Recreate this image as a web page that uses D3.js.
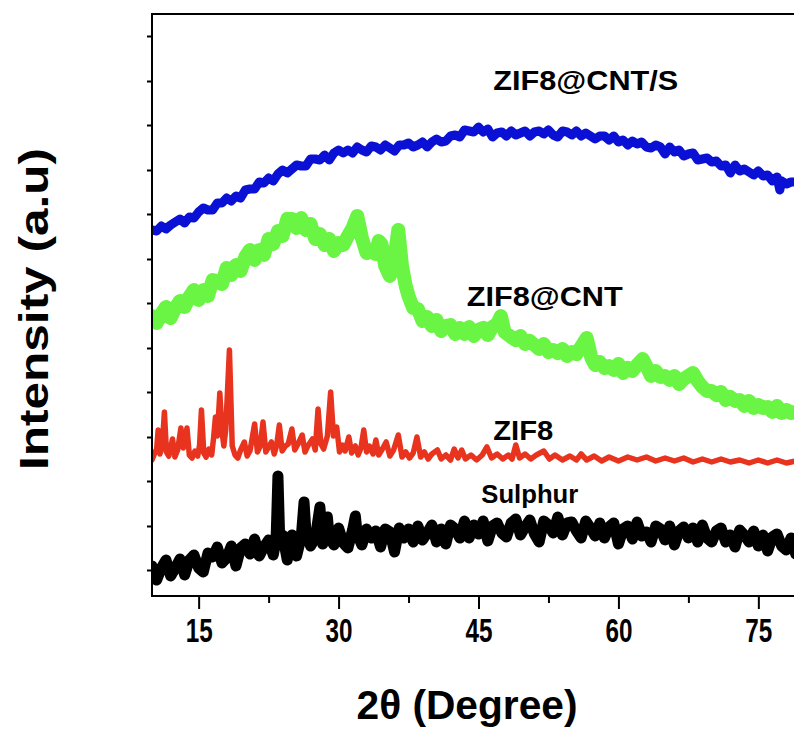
<!DOCTYPE html>
<html>
<head>
<meta charset="utf-8">
<script src="https://cdn.jsdelivr.net/npm/d3@7"></script>
<style>
  body { margin: 0; background: #fff; }
  svg { display: block; }
</style>
</head>
<body>
<div id="chart-area"></div>
<script>
(() => {

  // ---- data ----
  const twoThetaTicks = [15, 30, 45, 60, 75];
  const twoThetaMinor = [22.5, 37.5, 52.5, 67.5];
  const intensityTicks = [26, 70, 115, 159, 204, 248, 293, 337, 382, 426, 471, 515, 560];

  const zif8CntS = [[10,366],[10.5,365],[11,370],[11.5,367],[12,371],[12.5,374],[13,377],[13.5,373],[14,379],[14.5,378],[15,384],[15.5,388],[16,386],[16.5,386],[17,393],[17.5,393],[18,398],[18.5,395],[19,400],[19.5,398],[20,406],[20.5,407],[21,407],[21.5,414],[22,413],[22.5,418],[23,415],[23.5,422],[24,426],[24.5,423],[25,427],[25.5,431],[26,430],[26.5,430],[27,437],[27.5,437],[28,436],[28.5,441],[29,436],[29.5,443],[30,446],[30.5,443],[31,446],[31.5,443],[32,449],[32.5,446],[33,444],[33.5,450],[34,449],[34.5,446],[35,451],[35.5,448],[36,445],[36.5,451],[37,451],[37.5,453],[38,449],[38.5,451],[39,454],[39.5,449],[40,454],[40.5,457],[41,454],[41.5,455],[42,460],[42.5,461],[43,459],[43.5,466],[44,465],[44.5,464],[45,469],[45.5,464],[46,467],[46.5,459],[47,463],[47.5,464],[48,460],[48.5,465],[49,461],[49.5,463],[50,465],[50.5,460],[51,464],[51.5,465],[52,462],[52.5,466],[53,461],[53.5,459],[54,465],[54.5,464],[55,461],[55.5,465],[56,460],[56.5,463],[57,460],[57.5,457],[58,460],[58.5,460],[59,456],[59.5,460],[60,454],[60.5,456],[61,451],[61.5,455],[62,452],[62.5,454],[63,449],[63.5,448],[64,451],[64.5,449],[65,442],[65.5,449],[66,444],[66.5,446],[67,440],[67.5,442],[68,443],[68.5,436],[69,437],[69.5,438],[70,434],[70.5,435],[71,430],[71.5,431],[72,423],[72.5,431],[73,425],[73.5,427],[74,424],[74.5,421],[75,425],[75.5,420],[76,421],[76.5,415],[77,419],[77.3,406],[77.5,415],[78,412],[78.5,414],[79,414],[79.5,410],[80,411]];

  const zif8Cnt = [[10,280],[10.5,273],[11,282],[11.5,289],[12,278],[12.5,288],[13,295],[13.5,289],[14,299],[14.5,306],[15,296],[15.5,306],[16,300],[16.5,316],[17,315],[17.5,312],[18,328],[18.5,321],[19,331],[19.5,325],[20,339],[20.5,346],[21,336],[21.5,346],[22,341],[22.5,357],[23,352],[23.5,365],[24,360],[24.5,377],[25,377],[25.5,368],[26,378],[26.5,366],[27,372],[27.5,357],[28,362],[28.5,351],[29,357],[29.5,345],[30,353],[30.5,351],[31,360],[31.5,368],[32,380],[32.5,358],[33,343],[33.5,345],[34,342],[34.3,355],[34.6,352],[35,330],[35.5,320],[36,338],[36.4,366],[36.8,330],[37.2,310],[37.5,300],[38,288],[38.5,287],[39,275],[39.5,279],[40,270],[40.5,276],[41,265],[41.5,270],[42,271],[42.5,262],[43,268],[43.5,262],[44,269],[44.5,260],[45,266],[45.5,268],[46,261],[46.5,269],[47,272],[47.4,280],[47.8,264],[48.5,259],[49,256],[49.5,260],[50,252],[50.5,255],[51,251],[51.5,247],[52,252],[52.5,244],[53,246],[53.5,243],[54,247],[54.5,240],[55,244],[55.5,242],[56,249],[56.6,258],[57.1,238],[57.5,231],[58,234],[58.5,228],[59,230],[59.5,226],[60,232],[60.5,223],[61,228],[61.5,225],[62,231],[62.6,237],[63.2,226],[63.5,220],[64,225],[64.5,219],[65,220],[65.5,216],[66,220],[66.5,212],[67,217],[67.5,220],[68,223],[68.5,215],[69,209],[69.5,205],[70,205],[70.5,201],[71,204],[71.5,196],[72,199],[72.5,195],[73,196],[73.5,190],[74,195],[74.5,188],[75,191],[75.5,188],[76,189],[76.5,184],[77,190],[77.5,183],[78,186],[78.5,183],[79,184],[79.5,180],[80,184]];

  const zif8 = [[10,136],[10.3,143],[10.5,147],[10.66,166],[10.85,142],[11.1,150],[11.33,184],[11.55,144],[11.8,140],[12.0,149],[12.2,157],[12.45,139],[12.75,146],[13.1,168],[13.35,148],[13.5,153],[13.75,168],[14.0,141],[14.3,138],[14.6,145],[14.9,140],[15.1,151],[15.3,186],[15.55,143],[15.8,139],[16.1,147],[16.4,141],[16.6,158],[16.8,179],[17.0,160],[17.27,203],[17.5,165],[17.7,150],[17.9,166],[18.3,246],[18.6,150],[18.9,141],[19.2,138],[19.5,146],[19.9,154],[20.2,140],[20.5,145],[21.0,172],[21.3,144],[21.6,150],[21.9,174],[22.2,144],[22.5,149],[22.8,154],[23.1,142],[23.35,150],[23.65,171],[23.95,145],[24.3,150],[24.6,152],[25.0,167],[25.3,146],[25.6,151],[26.1,161],[26.4,144],[26.7,150],[27.2,157],[27.5,146],[27.8,187],[28.1,152],[28.4,147],[28.8,160],[29.15,204],[29.45,160],[29.8,169],[30.1,144],[30.4,151],[30.7,145],[31.1,159],[31.4,143],[31.8,150],[32.1,141],[32.4,148],[32.7,166],[33.0,144],[33.3,150],[33.7,142],[34.0,156],[34.3,141],[34.7,147],[35.1,154],[35.5,140],[35.9,146],[36.4,161],[36.8,139],[37.2,144],[37.6,138],[38.0,143],[38.4,159],[38.8,139],[39.2,144],[39.6,137],[40.0,142],[40.6,146],[41.0,137],[41.5,141],[42.0,136],[42.4,147],[42.8,138],[43.2,146],[43.6,137],[44.2,141],[44.8,136],[45.4,141],[45.9,149],[46.4,138],[47.0,142],[47.6,137],[48.2,141],[48.6,137],[49.0,151],[49.4,138],[50.0,142],[50.6,137],[51.2,141],[52.0,145],[52.6,137],[53.2,141],[54.0,136],[54.8,140],[55.5,136],[56.0,142],[56.6,136],[57.4,140],[58.2,135],[59,139],[60,135],[61,139],[62,136],[63,139],[64,135],[65,138],[66,135],[67,138],[68,134],[69,137],[70,134],[71,137],[72,134],[73,136],[74,133],[75,136],[76,133],[77,136],[78,133],[79,135],[80,133]];

  const sulphur = [[10,30],[10.5,16],[11,28],[11.5,36],[12,20],[12.5,28],[13,37],[13.5,21],[14,36],[14.5,41],[15,28],[15.5,24],[16,43],[16.5,39],[17,49],[17.5,33],[18,38],[18.5,50],[19,30],[19.5,48],[20,52],[20.5,42],[21,57],[21.5,40],[22,49],[22.5,56],[23,41],[23.3,56],[23.5,120],[23.7,54],[24,61],[24.5,36],[25,61],[25.5,40],[26,59],[26.3,94],[26.5,64],[27,50],[27.5,58],[28,89],[28.3,52],[28.5,65],[28.8,79],[29,59],[29.5,51],[30,68],[30.5,53],[31,48],[31.5,66],[31.8,80],[32,62],[32.5,51],[33,67],[33.5,58],[34,65],[34.5,49],[35,67],[35.5,64],[36,44],[36.5,68],[37,58],[37.5,67],[38,54],[38.5,70],[39,56],[39.5,63],[40,71],[40.5,54],[41,67],[41.5,52],[42,71],[42.5,67],[43,58],[43.5,75],[44,58],[44.5,71],[45,62],[45.5,75],[46,55],[46.5,70],[47,73],[47.5,63],[48,59],[48.5,73],[49,77],[49.5,61],[50,69],[50.5,76],[51,62],[51.5,54],[52,75],[52.5,71],[53,63],[53.5,79],[54,61],[54.5,73],[55,74],[55.5,65],[56,58],[56.5,75],[57,68],[57.5,60],[58,73],[58.5,58],[59,69],[59.5,73],[60,52],[60.5,67],[61,70],[61.5,57],[62,74],[62.5,60],[63,64],[63.5,54],[64,70],[64.5,67],[65,56],[65.5,70],[66,51],[66.5,65],[67,69],[67.5,58],[68,68],[68.5,54],[69,71],[69.5,58],[70,54],[70.5,65],[71,68],[71.5,54],[72,61],[72.5,49],[73,66],[73.5,61],[74,54],[74.5,65],[75,50],[75.5,61],[76,45],[76.5,59],[77,62],[77.5,50],[78,46],[78.5,58],[79,42],[79.5,52],[80,54]];

  // ---- layout ----
  const widthSvg = 794;
  const heightSvg = 730;
  const margin = { top: 14, left: 152 };
  const widthChart = 653;   // runs past the right edge like the source image
  const heightChart = 582;
  const fontBold = '"Liberation Sans", Arial, sans-serif';

  const scaleX = d3.scaleLinear()
    .domain([10, 80])
    .range([0, widthChart]);

  const scaleY = d3.scaleLinear()
    .domain([0, 582])
    .range([heightChart, 0]);

  const svg = d3.select('#chart-area')
    .append('svg')
      .attr('width', widthSvg)
      .attr('height', heightSvg);

  const chart = svg.append('g')
    .attr('transform', `translate(${margin.left}, ${margin.top})`);

  chart.append('clipPath')
    .attr('id', 'plot-clip')
    .append('rect')
      .attr('width', widthChart)
      .attr('height', heightChart);

  // ---- curves ----
  const line = d3.line()
    .x(d => scaleX(d[0]))
    .y(d => scaleY(d[1]));

  const series = [
    { data: sulphur, color: '#000000', width: 11 },
    { data: zif8, color: '#e8341f', width: 5.5 },
    { data: zif8Cnt, color: '#6af545', width: 14 },
    { data: zif8CntS, color: '#0a10d4', width: 9 }
  ];

  const curves = chart.append('g')
    .attr('clip-path', 'url(#plot-clip)');

  series.forEach(s => {
    curves.append('path')
      .datum(s.data)
      .attr('d', line)
      .attr('fill', 'none')
      .attr('stroke', s.color)
      .attr('stroke-width', s.width)
      .attr('stroke-linejoin', 'round')
      .attr('stroke-linecap', 'round');
  });

  // ---- axes ----
  const axisX = d3.axisBottom(scaleX)
    .tickValues(twoThetaTicks)
    .tickSize(13)
    .tickPadding(10)
    .tickFormat(d3.format('d'));

  const axisXMinor = d3.axisBottom(scaleX)
    .tickValues(twoThetaMinor)
    .tickSize(7)
    .tickFormat('');

  const axisY = d3.axisLeft(scaleY)
    .tickValues(intensityTicks)
    .tickSize(5)
    .tickFormat('');

  const groupAxisX = chart.append('g')
    .attr('transform', `translate(0, ${heightChart})`)
    .call(axisX);

  chart.append('g')
    .attr('transform', `translate(0, ${heightChart})`)
    .call(axisXMinor);

  chart.append('g')
    .call(axisY);

  chart.selectAll('.domain').remove();
  chart.selectAll('.tick line')
    .attr('stroke', '#000')
    .attr('stroke-width', 2);

  // condensed bold digits like the source
  groupAxisX.selectAll('text')
    .attr('font-family', fontBold)
    .attr('font-weight', 'bold')
    .attr('font-size', 33)
    .attr('textLength', 27)
    .attr('lengthAdjust', 'spacingAndGlyphs')
    .attr('fill', '#000');

  // frame
  chart.append('rect')
    .attr('width', widthChart)
    .attr('height', heightChart)
    .attr('fill', 'none')
    .attr('stroke', '#000')
    .attr('stroke-width', 2);

  // ---- series labels ----
  const labelData = [
    { text: 'ZIF8@CNT/S', x: 56.5, y: 506, size: 28, len: 185 },
    { text: 'ZIF8@CNT', x: 52.1, y: 290, size: 28, len: 156 },
    { text: 'ZIF8', x: 49.8, y: 156, size: 28, len: 60 },
    { text: 'Sulphur', x: 50.5, y: 93, size: 25, len: 97 }
  ];

  chart.selectAll('.series-label')
    .data(labelData)
    .enter()
    .append('text')
      .attr('class', 'series-label')
      .attr('x', d => scaleX(d.x))
      .attr('y', d => scaleY(d.y))
      .attr('text-anchor', 'middle')
      .attr('font-family', fontBold)
      .attr('font-weight', 'bold')
      .attr('font-size', d => d.size)
      .attr('textLength', d => d.len)
      .attr('lengthAdjust', 'spacingAndGlyphs')
      .text(d => d.text);

  // ---- axis titles ----
  svg.append('text')
    .attr('x', 467)
    .attr('y', 719)
    .attr('text-anchor', 'middle')
    .attr('font-family', fontBold)
    .attr('font-weight', 'bold')
    .attr('font-size', 40)
    .attr('textLength', 221)
    .attr('lengthAdjust', 'spacingAndGlyphs')
    .text('2θ (Degree)');

  svg.append('text')
    .attr('text-anchor', 'middle')
    .attr('transform', 'translate(48, 309) rotate(-90)')
    .attr('font-family', fontBold)
    .attr('font-weight', 'bold')
    .attr('font-size', 40)
    .attr('textLength', 322)
    .attr('lengthAdjust', 'spacingAndGlyphs')
    .text('Intensity (a.u)');

})();
</script>
</body>
</html>
